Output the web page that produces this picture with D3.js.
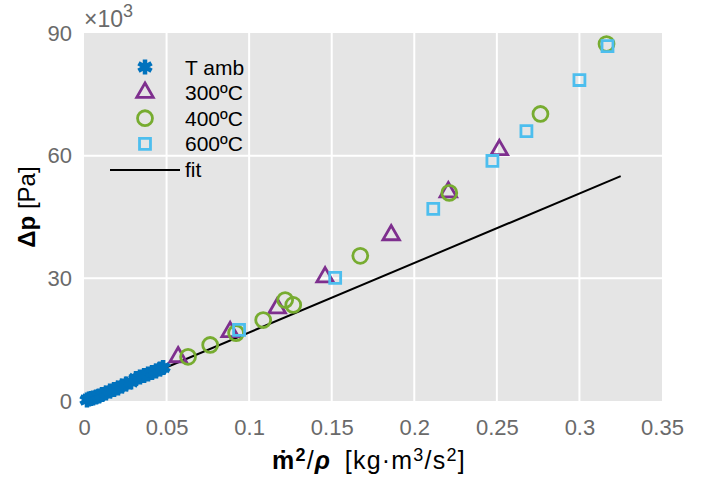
<!DOCTYPE html>
<html>
<head>
<meta charset="utf-8">
<script src="https://cdn.jsdelivr.net/npm/d3@7"></script>
<style>
  body { margin: 0; background: #fff; }
  text { font-family: "Liberation Sans", Arial, sans-serif; }
</style>
</head>
<body>
<div id="chart"></div>
<script>
// data: x = mdot^2/rho [kg m3/s2], y = dp [Pa]
var ambX = [0.0018, 0.0030, 0.0042, 0.0055, 0.0073, 0.0091, 0.0109, 0.0133, 0.0158, 0.0182, 0.0206,
            0.0230, 0.0255, 0.0285, 0.0315, 0.0339, 0.0364, 0.0388, 0.0412, 0.0436, 0.0461, 0.0479];
var ambY = [245, 490, 610, 730, 980, 1220, 1590, 1960, 2450, 2810, 3180,
            3670, 4160, 4650, 5500, 5870, 6240, 6600, 6970, 7340, 7830, 8190];

var t300X = [0.0570, 0.0885, 0.1170, 0.1460, 0.1860, 0.2206, 0.2515];
var t300Y = [10760, 16900, 22700, 30300, 40600, 51100, 61400];

var t400X = [0.0630, 0.0764, 0.0921, 0.1085, 0.1218, 0.1267, 0.1673, 0.2212, 0.2764, 0.3164];
var t400Y = [10800, 13700, 16600, 19800, 24700, 23500, 35500, 50900, 70200, 87300];

var t600X = [0.0939, 0.1521, 0.2115, 0.2473, 0.2679, 0.3000, 0.3170];
var t600Y = [17400, 30100, 47000, 58700, 66000, 78500, 86800];

var fitX = [0.023, 0.325];
var fitY = [3670, 55000];

var xTicks = [0, 0.05, 0.1, 0.15, 0.2, 0.25, 0.3, 0.35];
var yTicks = [0, 30000, 60000, 90000];

var width = 716, height = 483;
var margin = {top: 33, right: 54, bottom: 82, left: 84};
var w = width - margin.left - margin.right,
    h = height - margin.top - margin.bottom;

var svg = d3.select("#chart").append("svg")
    .attr("width", width)
    .attr("height", height);

var g = svg.append("g")
    .attr("transform", "translate(" + margin.left + "," + margin.top + ")");

var x = d3.scaleLinear().domain([0, 0.35]).range([0, w]);
var y = d3.scaleLinear().domain([0, 90000]).range([h, 0]);

// background + grid
g.append("rect").attr("width", w).attr("height", h).attr("fill", "#e5e5e5");

g.append("g").selectAll("line").data(xTicks.slice(1, -1)).enter().append("line")
    .attr("x1", d => x(d)).attr("x2", d => x(d))
    .attr("y1", 0).attr("y2", h)
    .attr("stroke", "#fff").attr("stroke-width", 2);
g.append("g").selectAll("line").data(yTicks.slice(1, -1)).enter().append("line")
    .attr("y1", d => y(d)).attr("y2", d => y(d))
    .attr("x1", 0).attr("x2", w)
    .attr("stroke", "#fff").attr("stroke-width", 2);

// axes (labels only)
var xAxis = g.append("g")
    .attr("transform", "translate(0," + h + ")")
    .call(d3.axisBottom(x).tickValues(xTicks).tickSize(0).tickPadding(18).tickFormat(d => d3.format("")(d)));
var yAxis = g.append("g")
    .call(d3.axisLeft(y).tickValues(yTicks).tickSize(0).tickPadding(12).tickFormat(d => d / 1000));
[xAxis, yAxis].forEach(function(a) {
  a.select(".domain").remove();
  a.selectAll("text").attr("fill", "#6a6a6a").style("font-size", "22px")
    .style("font-family", "'Liberation Sans', Arial, sans-serif");
});

// x10^3 multiplier
var mult = svg.append("text").attr("x", 84).attr("y", 27).attr("fill", "#6a6a6a").style("font-size", "23px");
mult.append("tspan").text("\u00d710");
mult.append("tspan").attr("dy", -10).style("font-size", "18px").text("3");

// fit line
g.append("path")
    .datum(d3.zip(fitX, fitY))
    .attr("d", d3.line().x(d => x(d[0])).y(d => y(d[1])))
    .attr("fill", "none").attr("stroke", "#000").attr("stroke-width", 2);

var cAmb = "#0072BD", c300 = "#7E2F8E", c400 = "#77AC30", c600 = "#4DBEEE";

function star(sel) {
  sel.attr("d", d3.symbol().type(d3.symbolAsterisk).size(160))
     .attr("fill", "none").attr("stroke", cAmb).attr("stroke-width", 4.5);
}
function tri(sel) {
  sel.attr("d", d3.symbol().type(d3.symbolTriangle).size(118))
     .attr("fill", "none").attr("stroke", c300).attr("stroke-width", 2.8);
}
function circ(sel) {
  sel.attr("d", d3.symbol().type(d3.symbolCircle).size(175))
     .attr("fill", "none").attr("stroke", c400).attr("stroke-width", 2.8);
}
function sq(sel) {
  sel.attr("d", d3.symbol().type(d3.symbolSquare).size(120))
     .attr("fill", "none").attr("stroke", c600).attr("stroke-width", 2.8);
}

function plot(xs, ys, style) {
  g.append("g").selectAll("path").data(d3.zip(xs, ys)).enter().append("path")
    .attr("transform", d => "translate(" + x(d[0]) + "," + y(d[1]) + ")")
    .call(style);
}
plot(ambX, ambY, star);
plot(t300X, t300Y, tri);
plot(t400X, t400Y, circ);
plot(t600X, t600Y, sq);

// legend
var legItems = [["T amb", star], ["300\u00baC", tri], ["400\u00baC", circ], ["600\u00baC", sq]];
var leg = svg.append("g");
legItems.forEach(function(it, i) {
  var yy = 67 + i * 25.6;
  leg.append("path").attr("transform", "translate(145," + yy + ")").call(it[1]);
  leg.append("text").attr("x", 185).attr("y", yy + 7.5).style("font-size", "21px").attr("fill", "#000").text(it[0]);
});
leg.append("line").attr("x1", 110).attr("x2", 180).attr("y1", 170).attr("y2", 170)
  .attr("stroke", "#000").attr("stroke-width", 2);
leg.append("text").attr("x", 185).attr("y", 177).style("font-size", "21px").text("fit");

// y title
var yt = svg.append("text")
    .attr("transform", "translate(35,207) rotate(-90)")
    .attr("text-anchor", "middle").style("font-size", "24px");
yt.append("tspan").style("font-weight", "bold").text("\u0394p");
yt.append("tspan").text(" [Pa]");

// x title
var xt = svg.append("text").attr("x", 272).attr("y", 469)
    .style("font-size", "25px").style("letter-spacing", "1.2px");
xt.append("tspan").style("font-weight", "bold").text("m\u0307");
xt.append("tspan").attr("dy", -8).style("font-size", "18px").style("font-weight", "bold").text("2");
xt.append("tspan").attr("dy", 8).text("/");
xt.append("tspan").style("font-weight", "bold").style("font-style", "italic").text("\u03c1");
xt.append("tspan").text("\u2002[kg\u00b7m");
xt.append("tspan").attr("dy", -8).style("font-size", "18px").text("3");
xt.append("tspan").attr("dy", 8).text("/s");
xt.append("tspan").attr("dy", -8).style("font-size", "18px").text("2");
xt.append("tspan").attr("dy", 8).text("]");
</script>
</body>
</html>
